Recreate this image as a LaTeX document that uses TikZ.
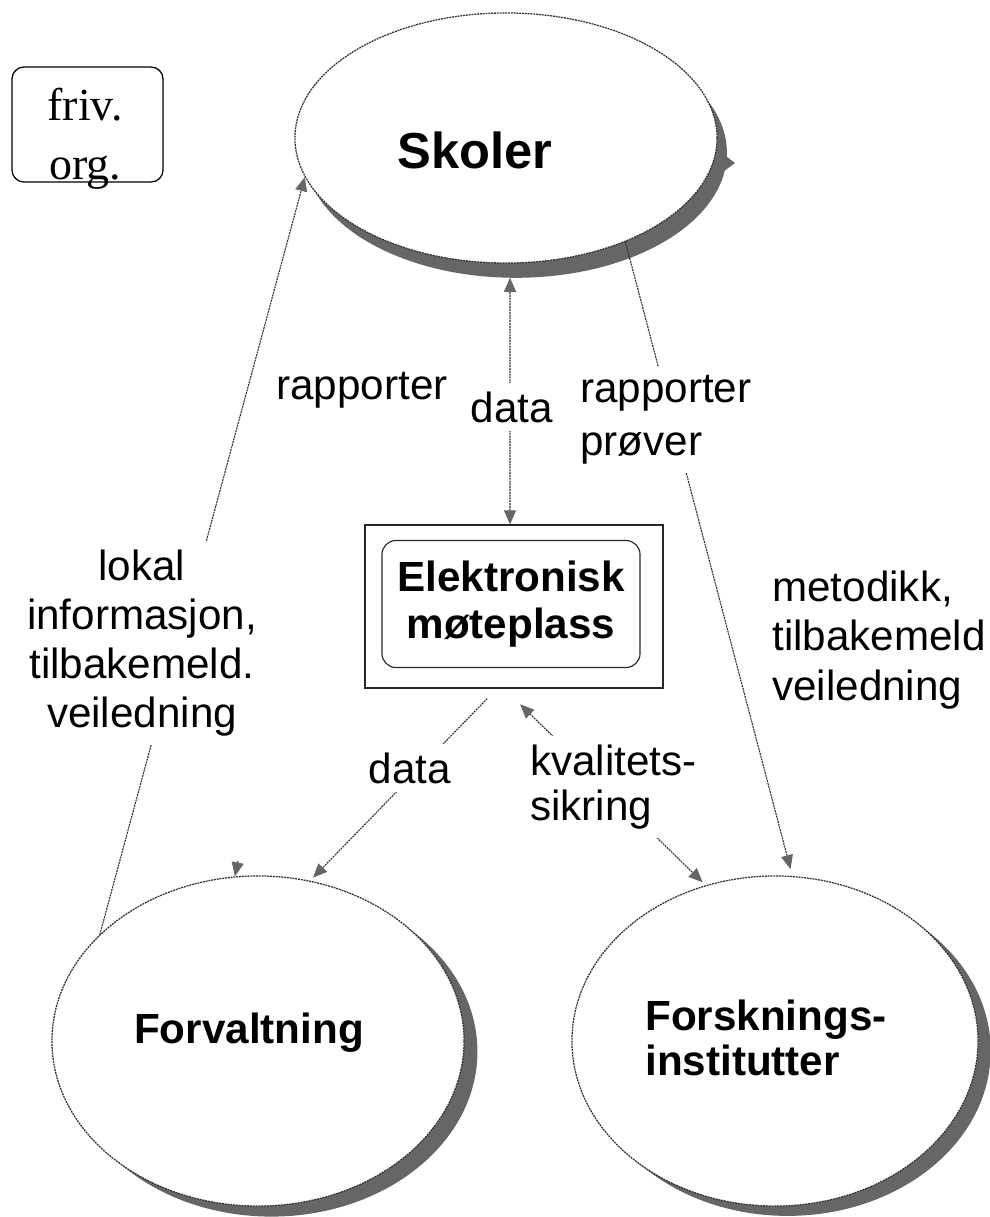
\documentclass[tikz,border=0pt]{standalone}
\usepackage{fontspec}
\setmainfont{Liberation Serif}
\newfontfamily\arial{Liberation Sans}
\usetikzlibrary{shapes.geometric,arrows.meta,shadows,calc}
\begin{document}
\begin{tikzpicture}[x=0.025cm,y=-0.025cm,
  >={Triangle[length=10pt,width=8.5pt,color=black!60]},
  conn/.style={draw=black!80, line width=0.8pt, dash pattern=on 1.4pt off 0.6pt},
  bubble/.style={ellipse, draw=black!80, line width=0.9pt, dash pattern=on 1.4pt off 0.6pt, fill=white, inner sep=0pt},
  shadowfill/.style={fill=black!60},
  lbl/.style={font=\arial\fontsize{30}{36}\selectfont, fill=white, inner sep=6pt},
  ttl/.style={font=\arial\bfseries\fontsize{30}{33}\selectfont, inner sep=0pt},
  frame/.style={draw=black!85, line width=0.8pt},
]
\useasboundingbox[fill=white] (0,0) rectangle (990,1217);

% shapes
\fill[shadowfill] (710,144) -- (735,163) -- (712,180) -- cycle;
\node[bubble, minimum width=10.55cm, minimum height=6.25cm,
  drop shadow={shadow xshift=7pt, shadow yshift=-10.5pt, opacity=1, fill=black!60}] (skoler) at (506,138) {};
\node[bubble, minimum width=10.3cm, minimum height=8.25cm,
  drop shadow={shadow xshift=9.5pt, shadow yshift=-7.5pt, opacity=1, fill=black!60}] (forv) at (258,1041) {};
\node[bubble, minimum width=10.15cm, minimum height=8.25cm,
  drop shadow={shadow xshift=9pt, shadow yshift=-7pt, opacity=1, fill=black!60}] (forsk) at (775,1041) {};
\node[frame, minimum width=7.45cm, minimum height=4.075cm, inner sep=0pt] (moteO) at (514,606.5) {};
\node[ttl, frame, rounded corners=0.35cm, minimum width=6.45cm, minimum height=3.175cm, align=center] (mote) at (511,604) {Elektronisk\\møteplass};
\node[draw=black, line width=0.9pt, rounded corners=0.3cm, minimum width=3.775cm, minimum height=2.875cm, inner sep=0pt] (friv) at (87.5,124.5) {};

% connectors
\draw[conn,->] (forv.146) -- (skoler.191);
\draw[conn,->,shorten >=5pt] (skoler.-41) -- (forsk.84);
\draw[conn,<->,shorten >=10pt] ([xshift=-0.1cm]moteO.north) -- ([xshift=0.1cm]skoler.south);
\draw[conn,->,shorten <=10pt,shorten >=3pt] ([xshift=-0.425cm]moteO.south) -- (forv.72);
\draw[conn,<->,shorten <=16pt,shorten >=3pt] ([xshift=-0.25cm]moteO.south) -- (forsk.114);
\coordinate (rapTail) at (238,861);
\draw[conn,->] (rapTail) -- (forv.98);

% texts
\node[font=\arial\bfseries\fontsize{36}{40}\selectfont, inner sep=0pt] (skolerT) at (475,150) {Skoler};
\node[ttl] (forvT) at (249,1033) {Forvaltning};
\node[ttl, font=\arial\bfseries\fontsize{30}{31.5}\selectfont, align=left] (forskT) at (766,1038) {Forsknings-\\institutter};
\node[font=\fontsize{32.7}{42}\selectfont, align=center, inner sep=0pt] (frivT) at (85,139) {friv.\\org.};

\node[lbl] (rapL) at (362,390) {rapporter};
\node[lbl] (dataU) at (512,407) {data};
\node[lbl, font=\arial\fontsize{30}{38}\selectfont, align=left, anchor=west] (rapR) at (571.6,420) {rapporter\\prøver};
\node[lbl, font=\arial\fontsize{30}{35}\selectfont, align=center] (lokal) at (142,643) {lokal\\informasjon,\\tilbakemeld.\\veiledning};
\node[lbl, font=\arial\fontsize{30}{35}\selectfont, align=left, anchor=west] (metod) at (763.6,640) {metodikk,\\tilbakemeld\\veiledning};
\node[lbl] (dataB) at (410,768) {data};
\node[lbl, font=\arial\fontsize{30}{32}\selectfont, align=left, anchor=west] (kval) at (521.6,787) {kvalitets-\\sikring};
\end{tikzpicture}
\end{document}
